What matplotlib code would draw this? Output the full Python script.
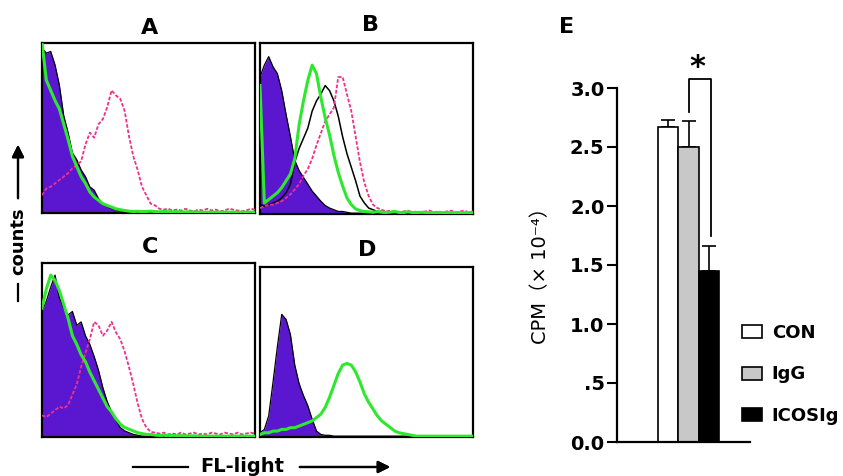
import numpy as np
import matplotlib
matplotlib.use("Agg")
import matplotlib.pyplot as plt
from matplotlib.patches import Patch
from matplotlib.lines import Line2D

plt.rcParams['font.family'] = ['DejaVu Sans', 'Noto Sans CJK SC']

# histogram channels (percent of the FL-light axis), bin centres every 2
channels = np.arange(1, 100, 2)

# panel A
a_purple = [0.97, 0.94, 0.95, 0.87, 0.75, 0.57, 0.47, 0.35, 0.31, 0.25,
            0.21, 0.15, 0.13, 0.08, 0.05, 0.035, 0.02, 0.012, 0.008, 0.004,
            0, 0, 0, 0, 0, 0, 0, 0, 0, 0,
            0, 0, 0, 0, 0, 0, 0, 0, 0, 0,
            0, 0, 0, 0, 0, 0, 0, 0, 0, 0]
a_green = [1.0, 0.78, 0.72, 0.66, 0.61, 0.52, 0.43, 0.33, 0.27, 0.21,
           0.17, 0.12, 0.09, 0.07, 0.05, 0.04, 0.03, 0.02, 0.015, 0.01,
           0.006, 0.004, 0.005, 0.003, 0.004, 0.006, 0.003, 0.002, 0.004, 0.003,
           0.002, 0.003, 0.002, 0.001, 0.002, 0.001, 0, 0, 0, 0,
           0, 0, 0, 0, 0, 0, 0, 0, 0, 0]
a_pink = [0.10, 0.14, 0.15, 0.17, 0.19, 0.21, 0.23, 0.26, 0.28, 0.30,
          0.40, 0.47, 0.44, 0.52, 0.55, 0.62, 0.72, 0.69, 0.67, 0.60,
          0.45, 0.33, 0.25, 0.15, 0.10, 0.05, 0.04, 0.02, 0.015, 0.02,
          0.01, 0.015, 0.01, 0.02, 0.01, 0.005, 0.015, 0.01, 0.02, 0.01,
          0.015, 0.005, 0.01, 0.02, 0.015, 0.01, 0.005, 0.01, 0.02, 0.015]

# panel B
b_purple = [0.80, 0.87, 0.92, 0.86, 0.82, 0.72, 0.58, 0.45, 0.31, 0.25,
            0.21, 0.17, 0.13, 0.10, 0.07, 0.045, 0.03, 0.02, 0.01, 0.01,
            0.005, 0, 0, 0, 0, 0, 0, 0, 0, 0,
            0, 0, 0, 0, 0, 0, 0, 0, 0, 0,
            0, 0, 0, 0, 0, 0, 0, 0, 0, 0]
b_black = [0.05, 0.04, 0.05, 0.06, 0.07, 0.09, 0.12, 0.17, 0.30, 0.38,
           0.44, 0.50, 0.60, 0.66, 0.70, 0.75, 0.72, 0.66, 0.57, 0.45,
           0.35, 0.27, 0.19, 0.10, 0.06, 0.03, 0.02, 0.01, 0.01, 0.005,
           0.004, 0.006, 0.003, 0.005, 0.002, 0.004, 0.003, 0.002, 0.003, 0.002,
           0.001, 0.002, 0.001, 0, 0, 0, 0, 0, 0, 0]
b_green = [0.75, 0.06, 0.08, 0.10, 0.12, 0.15, 0.19, 0.23, 0.32, 0.52,
           0.66, 0.78, 0.87, 0.82, 0.68, 0.56, 0.46, 0.34, 0.24, 0.16,
           0.09, 0.05, 0.025, 0.015, 0.01, 0.008, 0.005, 0.01, 0.005, 0.004,
           0.006, 0.01, 0.004, 0.003, 0.008, 0.004, 0.003, 0.005, 0.004, 0.002,
           0.003, 0.004, 0.002, 0.003, 0.004, 0.002, 0.003, 0.002, 0.003, 0.002]
b_pink = [0.03, 0.04, 0.05, 0.05, 0.06, 0.07, 0.09, 0.11, 0.14, 0.17,
          0.22, 0.26, 0.32, 0.40, 0.47, 0.54, 0.58, 0.62, 0.80, 0.80,
          0.70, 0.60, 0.45, 0.30, 0.18, 0.10, 0.05, 0.03, 0.02, 0.01,
          0.015, 0.01, 0.005, 0.01, 0.015, 0.005, 0.01, 0.005, 0.01, 0.015,
          0.005, 0.01, 0.005, 0.01, 0.015, 0.005, 0.01, 0.015, 0.005, 0.01]

# panel C
c_purple = [0.72, 0.78, 0.86, 0.93, 0.80, 0.74, 0.70, 0.72, 0.64, 0.66,
            0.58, 0.53, 0.46, 0.38, 0.28, 0.20, 0.14, 0.09, 0.05, 0.03,
            0.02, 0.01, 0.005, 0, 0, 0, 0, 0, 0, 0,
            0, 0, 0, 0, 0, 0, 0, 0, 0, 0,
            0, 0, 0, 0, 0, 0, 0, 0, 0, 0]
c_green = [0.74, 0.85, 0.93, 0.90, 0.84, 0.76, 0.68, 0.58, 0.53, 0.47,
           0.43, 0.37, 0.32, 0.27, 0.22, 0.17, 0.14, 0.10, 0.07, 0.05,
           0.04, 0.03, 0.02, 0.015, 0.01, 0.01, 0.006, 0.004, 0.005, 0.003,
           0.004, 0.002, 0.003, 0.002, 0.001, 0.002, 0, 0, 0, 0,
           0, 0, 0, 0, 0, 0, 0, 0, 0, 0]
c_pink = [0.12, 0.11, 0.13, 0.15, 0.17, 0.16, 0.18, 0.24, 0.30, 0.40,
          0.48, 0.56, 0.66, 0.64, 0.58, 0.61, 0.66, 0.60, 0.56, 0.49,
          0.40, 0.30, 0.19, 0.10, 0.05, 0.025, 0.02, 0.015, 0.02, 0.01,
          0.015, 0.01, 0.02, 0.01, 0.015, 0.02, 0.01, 0.015, 0.01, 0.02,
          0.015, 0.01, 0.02, 0.015, 0.01, 0.02, 0.01, 0.015, 0.02, 0.015]

# panel D
d_purple = [0.02, 0.04, 0.12, 0.32, 0.53, 0.72, 0.69, 0.60, 0.42, 0.31,
            0.24, 0.18, 0.10, 0.03, 0.01, 0.005, 0.005, 0, 0, 0,
            0, 0, 0, 0, 0, 0, 0, 0, 0, 0,
            0, 0, 0, 0, 0, 0, 0, 0, 0, 0,
            0, 0, 0, 0, 0, 0, 0, 0, 0, 0]
d_green = [0.01, 0.02, 0.02, 0.03, 0.03, 0.04, 0.04, 0.05, 0.05, 0.06,
           0.07, 0.08, 0.09, 0.11, 0.13, 0.17, 0.23, 0.30, 0.37, 0.42,
           0.43, 0.42, 0.38, 0.32, 0.25, 0.20, 0.16, 0.12, 0.09, 0.07,
           0.05, 0.03, 0.02, 0.015, 0.01, 0.005, 0, 0, 0, 0,
           0, 0, 0, 0, 0, 0, 0, 0, 0, 0]

# panel E
groups = ['CON', 'IgG', 'ICOSIg']
cpm = [2.67, 2.50, 1.45]
cpm_err = [0.06, 0.22, 0.21]
bar_colors = ['white', '#c8c8c8', 'black']

PURPLE = '#5b16d0'
GREEN = '#2ee82e'
PINK = '#f0308c'

W, H = 843, 476


def fx(x):
    return x / W


def fy(y):
    return 1 - y / H


fig = plt.figure(figsize=(W / 100, H / 100), dpi=100)

panels = [
    ('A', (42, 43, 255, 213), a_purple, None, a_pink, a_green, (150, 28)),
    ('B', (260, 43, 473, 214), b_purple, b_black, b_pink, b_green, (370, 25)),
    ('C', (42, 263, 255, 437), c_purple, None, c_pink, c_green, (150, 247)),
    ('D', (260, 267, 473, 437), d_purple, None, None, d_green, (367, 250)),
]

for name, (x0, y0, x1, y1), purple, black, pink, green, tpos in panels:
    ax = fig.add_axes([fx(x0), fy(y1), (x1 - x0) / W, (y1 - y0) / H])
    ax.fill_between(channels, purple, 0, color=PURPLE, lw=0, zorder=1)
    ax.plot(channels, purple, color='black', lw=0.9, zorder=2)
    if black is not None:
        ax.plot(channels, black, color='black', lw=1.1, zorder=2)
    if pink is not None:
        ax.plot(channels, pink, color=PINK, lw=1.3, ls=(0, (2, 1)), zorder=3)
    ax.plot(channels, green, color=GREEN, lw=2.2, zorder=4)
    ax.set_xlim(1, 99)
    ax.set_ylim(-0.005, 1.0)
    ax.set_xticks([])
    ax.set_yticks([])
    for s in ax.spines.values():
        s.set_linewidth(1.6)
    fig.text(fx(tpos[0]), fy(tpos[1]), name, ha='center', va='center',
             fontsize=16, fontweight='bold')

# counts arrow on the left
fig.text(fx(18), fy(241), 'counts', rotation=90, ha='center', va='center',
         fontsize=13, fontweight='bold')
fig.add_artist(Line2D([fx(18), fx(18)], [fy(284), fy(301)], color='black', lw=1.6))
fig.add_artist(plt.annotate('', xy=(fx(18), fy(142)), xytext=(fx(18), fy(201)),
                            xycoords='figure fraction',
                            arrowprops=dict(arrowstyle='-|>', lw=1.6, color='black',
                                            mutation_scale=18)))

# FL-light arrow at the bottom
fig.text(fx(242), fy(466), 'FL-light', ha='center', va='center', fontsize=14,
         fontweight='bold')
fig.add_artist(Line2D([fx(133), fx(188)], [fy(467), fy(467)], color='black', lw=1.6))
fig.add_artist(plt.annotate('', xy=(fx(393), fy(467)), xytext=(fx(297), fy(467)),
                            xycoords='figure fraction',
                            arrowprops=dict(arrowstyle='-|>', lw=1.6, color='black',
                                            mutation_scale=18)))

# bar chart E
axe = fig.add_axes([fx(617), fy(442), (750 - 617) / W, (442 - 88) / H])
pos = np.arange(len(groups))
axe.bar(pos, cpm, width=1.0, color=bar_colors, edgecolor='black', lw=1.2, zorder=2)
axe.errorbar(pos, cpm, yerr=[[0, 0, 0], cpm_err], fmt='none', ecolor='black',
             elinewidth=1.2, capsize=5, capthick=1.2, zorder=1)
axe.set_xlim(-2.5, 4.0)
axe.set_ylim(0, 3.0)
axe.set_xticks([])
axe.set_yticks([0, 0.5, 1.0, 1.5, 2.0, 2.5, 3.0])
axe.set_yticklabels(['0.0', '.5', '1.0', '1.5', '2.0', '2.5', '3.0'],
                    fontsize=14, fontweight='bold')
axe.tick_params(axis='y', length=7, width=1.5, pad=2)
axe.spines['top'].set_visible(False)
axe.spines['right'].set_visible(False)
axe.spines['left'].set_linewidth(1.6)
axe.spines['bottom'].set_linewidth(1.6)

# significance bracket
axe.plot([1, 1, 2.1, 2.1], [2.80, 3.08, 3.08, 1.75], color='black', lw=1.3,
         clip_on=False)
axe.text(1.45, 3.17, '*', ha='center', va='center', fontsize=22,
         fontweight='bold', clip_on=False)

fig.text(fx(567), fy(27), 'E', ha='center', va='center', fontsize=16,
         fontweight='bold')
fig.text(fx(541), fy(271), 'CPM（× 10⁻⁴）', rotation=90, ha='center',
         va='center', fontsize=14)

handles = [Patch(facecolor=c, edgecolor='black', lw=1.2) for c in bar_colors]
fig.legend(handles, groups, loc='upper left', bbox_to_anchor=(fx(742), fy(324)),
           frameon=False, prop={'size': 13, 'weight': 'bold'},
           handlelength=1.1, handleheight=0.75, handletextpad=0.55,
           labelspacing=1.3, borderpad=0, borderaxespad=0)

fig.savefig('out.png', dpi=100)
